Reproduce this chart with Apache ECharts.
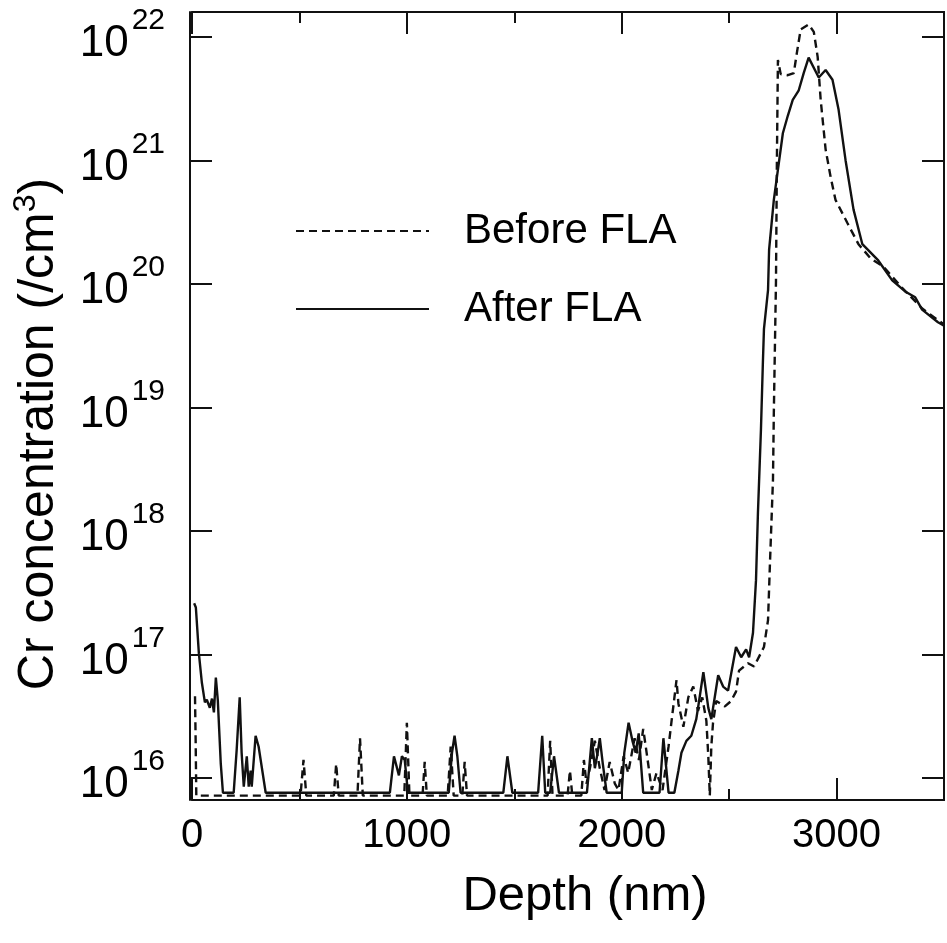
<!DOCTYPE html>
<html>
<head>
<meta charset="utf-8">
<script src="https://cdn.jsdelivr.net/npm/echarts@6/dist/echarts.min.js"></script>
<style>html,body{margin:0;padding:0;background:#fff}#c{width:947px;height:943px}</style>
</head>
<body>
<div id="c"></div>
<script>
// ---- data (depth in nm, Cr concentration in /cm^3) ----
const depthBefore = [14,17,20,505,519,532,660,671,683,770,782,795,988,1000,1012,1073,1083,1093,1190,1204,1218,1258,1269,1280,
  1655,1667,1678,1748,1759,1770,1812,1824,1836,1852,1875,1898,1920,1944,1968,1985,2009,2030,2060,2080,2100,2116,2140,2162,2190,
  2218,2231,2255,2264,2287,2310,2333,2355,2375,2394,2403,2410,2417,2425,2440,2480,2509,2532,2546,2588,2616,2662,2681,2690,2704,
  2708,2713,2718,2722,2727,2740,2773,2801,2815,2833,2870,2894,2912,2926,2949,2972,2995,3051,3102,3160,3218,3300,3400,3500];
const concBefore = [4.6e16,2.0e16,7.2e15,7.2e15,1.4e16,7.2e15,7.2e15,1.3e16,7.2e15,7.2e15,2.1e16,7.2e15,7.2e15,2.8e16,7.2e15,7.2e15,1.35e16,7.2e15,7.2e15,1.8e16,7.2e15,7.2e15,1.35e16,7.2e15,
  7.2e15,2.0e16,7.2e15,7.2e15,1.15e16,7.2e15,7.2e15,1.4e16,9e15,1.2e16,2.0e16,1.2e16,8e15,1.35e16,9e15,8e15,1.5e16,1.1e16,2.1e16,1.4e16,2.5e16,1.6e16,8e15,1.1e16,8e15,
  1.8e16,2.8e16,6.2e16,4.0e16,2.6e16,4.5e16,5.5e16,3.5e16,4.5e16,2.9e16,1.5e16,7.2e15,1.8e16,2.8e16,4.2e16,3.8e16,4.2e16,5.0e16,7.4e16,8.5e16,8.0e16,1.15e17,1.9e17,5.5e17,2.6e18,
  9.1e18,3.1e19,1.05e20,8.9e20,6.5e21,5.0e21,4.9e21,5.1e21,7.4e21,1.15e22,1.26e22,1.1e22,6.9e21,3.1e21,1.23e21,7.4e20,4.8e20,3.1e20,2.1e20,1.6e20,1.38e20,9.5e19,6.3e19,4.7e19];

const depthAfter = [10,18,32,46,60,69,83,93,102,111,120,134,144,194,208,222,231,241,255,264,273,278,296,310,343,
  921,940,949,963,977,990,1005,1195,1210,1222,1235,1250,1449,1468,1491,1611,1630,1644,1667,1685,1708,
  1838,1852,1861,1875,1888,1898,1912,1930,2000,2012,2032,2050,2065,2079,2100,2176,2194,2218,2245,2264,2278,2301,2324,
  2347,2361,2380,2403,2417,2449,2472,2495,2532,2556,2579,2593,2611,2625,2634,2648,2657,2662,2681,2686,2708,2750,2773,
  2796,2824,2847,2870,2917,2949,2981,3009,3042,3079,3120,3194,3259,3319,3366,3398,3472,3500];
const concAfter = [2.6e17,2.4e17,1.02e17,5.9e16,4.1e16,4.3e16,3.7e16,4.4e16,3.4e16,6.5e16,4.3e16,1.3e16,7.6e15,7.6e15,1.7e16,4.5e16,1.6e16,8.5e15,1.5e16,8.5e15,1.15e16,8.5e15,2.2e16,1.8e16,7.6e15,
  7.6e15,1.5e16,1.5e16,1.05e16,1.5e16,1.4e16,7.6e15,7.6e15,1.6e16,2.2e16,1.5e16,7.6e15,7.6e15,1.5e16,7.6e15,7.6e15,2.2e16,7.6e15,7.6e15,1.5e16,7.6e15,
  7.6e15,1.4e16,2.1e16,1.2e16,1.6e16,2.1e16,1.3e16,7.6e15,7.6e15,1.6e16,2.8e16,2.0e16,1.6e16,2.3e16,7.6e15,7.6e15,2.1e16,7.6e15,7.6e15,1.15e16,1.6e16,2.0e16,2.2e16,
  3.0e16,4.3e16,7.2e16,3.7e16,3.0e16,6.8e16,5.5e16,5.1e16,1.15e17,9.5e16,1.1e17,9.5e16,1.5e17,4.0e17,1.4e18,6.6e18,2.3e19,4.3e19,8.9e19,1.9e20,4.8e20,1.66e21,2.3e21,
  3.1e21,3.7e21,5.1e21,6.8e21,4.7e21,5.4e21,4.5e21,2.6e21,1.0e21,4.0e20,2.1e20,1.55e20,1.07e20,8.7e19,7.8e19,6.2e19,4.9e19,4.6e19];

const seriesNames = ['Before FLA', 'After FLA'];
const xTickLabels = [0, 1000, 2000, 3000];
const yTickExponents = [16, 17, 18, 19, 20, 21, 22];
const xMin = 0, xMax = 3500;
const yMin = Math.pow(10, 15.822), yMax = Math.pow(10, 22.202);

const FONT = '"Liberation Sans", Arial, Helvetica, sans-serif';
const INK = '#111';
const axisLineStyle = { color: INK, width: 2 };

function pairs(xs, ys) { return xs.map((x, i) => [x, ys[i]]); }

function xAxisDef(pos, interval, tickLen, withLabels) {
  const a = {
    type: 'value', position: pos, min: xMin, max: xMax, interval: interval,
    axisLine: { show: true, onZero: false, lineStyle: axisLineStyle },
    axisTick: { show: true, inside: true, length: tickLen, lineStyle: { color: INK, width: 2 } },
    axisLabel: { show: false },
    splitLine: { show: false }
  };
  if (withLabels) {
    a.axisLabel = {
      show: true, margin: 16, color: '#000', fontSize: 40, fontFamily: FONT,
      formatter: v => (xTickLabels.indexOf(v) >= 0 ? String(v) : '')
    };
    a.name = 'Depth (nm)';
    a.nameLocation = 'middle';
    a.nameGap = 72;
    a.nameTextStyle = { color: '#000', fontSize: 49, fontFamily: FONT, padding: [0, 0, 0, 34] };
  }
  return a;
}

const chart = echarts.init(document.getElementById('c'), null, { renderer: 'canvas' });
chart.setOption({
  animation: false,
  backgroundColor: '#fff',
  grid: { left: 192, top: 12, width: 756, height: 788, containLabel: false },
  legend: {
    data: seriesNames,
    orient: 'vertical',
    left: 295, top: 210, padding: 0,
    itemWidth: 133, itemHeight: 14, itemGap: 36,
    itemStyle: { opacity: 0 },
    formatter: '{a|{name}}',
    textStyle: {
      color: '#000', fontSize: 42, fontFamily: FONT,
      rich: { a: { fontSize: 42, fontFamily: FONT, color: '#000', lineHeight: 44, padding: [0, 0, 0, 30] } }
    }
  },
  xAxis: [
    xAxisDef('bottom', 1000, 22, true),
    xAxisDef('bottom', 500, 11, false),
    xAxisDef('top', 1000, 22, false),
    xAxisDef('top', 500, 11, false)
  ],
  yAxis: [
    {
      type: 'log', logBase: 10, position: 'left', offset: 2, min: yMin, max: yMax,
      axisLine: { show: true, onZero: false, lineStyle: axisLineStyle },
      axisTick: { show: true, inside: true, length: 22, lineStyle: { color: INK, width: 2 } },
      minorTick: { show: false },
      splitLine: { show: false },
      axisLabel: {
        show: true, margin: 25, showMinLabel: false, showMaxLabel: false,
        padding: [0, 0, 18, 0],
        formatter: function (v) {
          const e = Math.log10(v), r = Math.round(e);
          if (Math.abs(e - r) > 1e-6 || yTickExponents.indexOf(r) < 0) return '';
          return '{b|10}{s|' + r + '}';
        },
        rich: {
          b: { fontSize: 44, fontFamily: FONT, color: '#000', lineHeight: 44, verticalAlign: 'top', padding: [16, 0, 0, 0] },
          s: { fontSize: 30, fontFamily: FONT, color: '#000', lineHeight: 30, verticalAlign: 'top', padding: [0, 0, 30, 3] }
        }
      },
      name: '{a|Cr concentration (/cm}{s|3}{a|)}',
      nameLocation: 'middle',
      nameGap: 126,
      nameTextStyle: {
        padding: [0, 56, 0, 0],
        rich: {
          a: { fontSize: 50, fontFamily: FONT, color: '#000', lineHeight: 54, verticalAlign: 'bottom' },
          s: { fontSize: 32, fontFamily: FONT, color: '#000', lineHeight: 32, verticalAlign: 'top' }
        }
      }
    },
    {
      type: 'log', logBase: 10, position: 'right', min: yMin, max: yMax,
      axisLine: { show: true, onZero: false, lineStyle: axisLineStyle },
      axisTick: { show: true, inside: true, length: 22, lineStyle: { color: INK, width: 2 } },
      axisLabel: { show: false },
      splitLine: { show: false }
    }
  ],
  series: [
    {
      name: seriesNames[0], type: 'line', xAxisIndex: 0, yAxisIndex: 0,
      data: pairs(depthBefore, concBefore),
      symbol: 'none', showSymbol: false,
      lineStyle: { color: INK, width: 2.4, type: [8, 5] },
      itemStyle: { color: INK }
    },
    {
      name: seriesNames[1], type: 'line', xAxisIndex: 0, yAxisIndex: 0,
      data: pairs(depthAfter, concAfter),
      symbol: 'none', showSymbol: false,
      lineStyle: { color: INK, width: 2.4, type: 'solid' },
      itemStyle: { color: INK }
    }
  ]
});
</script>
</body>
</html>
